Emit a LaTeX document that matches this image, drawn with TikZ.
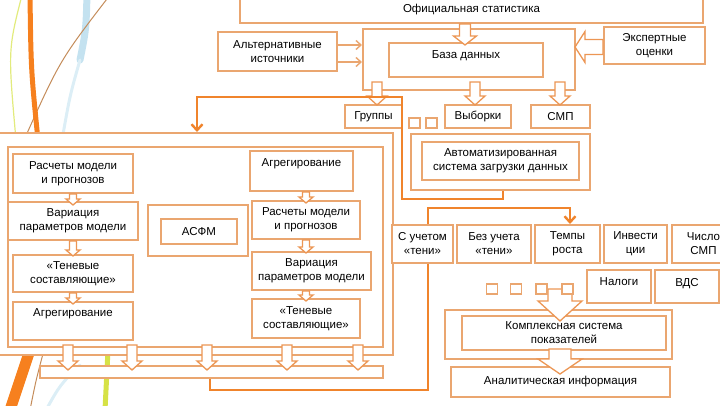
\documentclass[tikz,border=0pt]{standalone}
\usepackage{fontspec}
\setmainfont{Liberation Sans}
\usepackage{tikz}
\usetikzlibrary{positioning,arrows.meta,calc}
\definecolor{boxc}{RGB}{234,166,112}
\definecolor{arrc}{RGB}{236,150,84}
\definecolor{connc}{RGB}{240,132,44}
\definecolor{decoor}{RGB}{246,128,30}
\definecolor{decobl}{RGB}{196,226,240}
\definecolor{decoyl}{RGB}{214,226,70}
\definecolor{decobr}{RGB}{196,140,90}
\tikzset{
  blk/.style    ={draw=boxc, line width=2pt, fill=white, rectangle, align=center, inner sep=1pt},
  frm/.style    ={draw=boxc, line width=2pt, fill=white, rectangle, inner sep=0pt},
  sq/.style     ={draw=boxc, line width=1.6pt, fill=white, rectangle, minimum width=11pt, minimum height=10pt, inner sep=0pt},
  barr/.style   ={draw=arrc, fill=white, line width=1.3pt, line join=miter},
  conn/.style   ={draw=connc, line width=2.4pt},
  arr/.style    ={conn, -{Straight Barb[length=6pt,width=11pt]}},
  tarr/.style   ={draw=boxc, line width=1.4pt, -{Straight Barb[length=5pt,width=9pt]}},
  swoosh/.style ={line cap=round},
  pics/dnarr/.style n args={4}{code={
    \draw[barr] (-#2/2,0) -- (#2/2,0) -- (#2/2,#1-#4) -- (#3/2,#1-#4) -- (0,#1)
      -- (-#3/2,#1-#4) -- (-#2/2,#1-#4) -- cycle;
  }},
}
\begin{document}
\begin{tikzpicture}[x=1pt, y=-1pt, font=\fontsize{11.5}{14}\selectfont]
  \useasboundingbox (0,0) rectangle (720,405);
  \clip (0,0) rectangle (720,405);

  \draw[swoosh, decobl, line width=7pt] (87,-5) .. controls (86,30) .. (80,60);
  \draw[swoosh, decobl!60, line width=3pt] (80,60) .. controls (70,95) .. (62,140);
  \draw[swoosh, decoyl!70, line width=1.2pt] (22,-5) .. controls (8,50) .. (16,140);
  \draw[swoosh, decobr, line width=1pt] (110,-5) .. controls (60,60) .. (24,140);
  \draw[swoosh, decoor, line width=5pt] (30,-5) .. controls (31,70) .. (38,140);
  \draw[swoosh, decoor, line width=11pt] (30,350) .. controls (20,380) .. (10,410);
  \draw[swoosh, decobr, line width=1pt] (44,350) .. controls (36,380) .. (30,410);
  \draw[swoosh, decobl!60, line width=3pt] (80,365) .. controls (60,385) .. (46,410);
  \draw[swoosh, decoyl, line width=5pt] (108,350) -- (105,410);

  \node[blk, minimum width=463pt, minimum height=26pt] (stat) at (471.5,10) {Официальная статистика};
  \node[blk, minimum width=119pt, minimum height=39pt] (alt) at (277.5,51.5) {Альтернативные\\источники};
  \node[frm, minimum width=212pt, minimum height=61pt] (dbf) at (469,59.5) {};
  \node[blk, minimum width=154pt, minimum height=34pt, text depth=10pt] (db) at (466,60) {База данных};
  \node[blk, minimum width=101pt, minimum height=37pt] (exp) at (654.5,45.5) {Экспертные\\оценки};

  \node[blk, minimum width=57pt, minimum height=23pt] (grp) at (373.5,116.5) {Группы};
  \node[sq] (sqa) at (414.5,123) {};
  \node[sq] (sqb) at (431.5,123) {};
  \node[blk, minimum width=66pt, minimum height=23pt] (vyb) at (478,116.5) {Выборки};
  \node[blk, minimum width=59pt, minimum height=23pt] (smp) at (560.5,116.5) {СМП};
  \node[frm, minimum width=179pt, minimum height=56pt] (autof) at (500.5,162) {};
  \node[blk, minimum width=157pt, minimum height=38pt] (auto) at (500.5,161) {Автоматизированная\\система загрузки данных};

  \node[frm, minimum width=395pt, minimum height=222pt] (lf) at (195.5,244) {};
  \node[frm, minimum width=375pt, minimum height=200pt] (li) at (195.5,247) {};
  \node[blk, minimum width=120pt, minimum height=39pt] (la) at (73,173.5) {Расчеты модели\\и прогнозов};
  \node[blk, minimum width=130pt, minimum height=38pt] (lb) at (73,221) {Вариация\\параметров модели};
  \node[blk, minimum width=120pt, minimum height=37pt] (lc) at (73,273.5) {«Теневые\\составляющие»};
  \node[blk, minimum width=120pt, minimum height=38pt, text depth=17pt] (ld) at (73,321) {Агрегирование};
  \node[frm, minimum width=100pt, minimum height=51pt] (asff) at (198,230.5) {};
  \node[blk, minimum width=76pt, minimum height=25pt] (asf) at (199,231.5) {АСФМ};
  \node[blk, minimum width=103pt, minimum height=40pt, text depth=17pt] (ra) at (301.5,171) {Агрегирование};
  \node[blk, minimum width=108pt, minimum height=38pt] (rb) at (306,220) {Расчеты модели\\и прогнозов};
  \node[blk, minimum width=119pt, minimum height=38pt] (rc) at (311.5,271) {Вариация\\параметров модели};
  \node[blk, minimum width=108pt, minimum height=39pt] (rd) at (306,318.5) {«Теневые\\составляющие»};
  \node[frm, minimum width=343pt, minimum height=12pt] (bus) at (211.5,372) {};

  \node[blk, minimum width=61pt, minimum height=38pt] (ta) at (422.5,244) {С учетом\\«тени»};
  \node[blk, minimum width=74pt, minimum height=38pt] (tb) at (494,244) {Без учета\\«тени»};
  \node[blk, minimum width=65pt, minimum height=38pt] (tc) at (567.5,244) {Темпы\\роста};
  \node[blk, minimum width=63pt, minimum height=38pt] (td) at (635.5,244) {Инвести\\ции};
  \node[blk, minimum width=63pt, minimum height=38pt] (te) at (703.5,244) {Число\\СМП};
  \node[blk, minimum width=64pt, minimum height=33pt, text depth=9pt] (tax) at (619,286.5) {Налоги};
  \node[blk, minimum width=64pt, minimum height=33pt, text depth=9pt] (vds) at (687,286.5) {ВДС};

  \node[frm, minimum width=227pt, minimum height=49pt] (kf) at (558.5,334.5) {};
  \node[blk, minimum width=204pt, minimum height=34pt] (komp) at (564,333) {Комплексная система\\показателей};
  \node[blk, minimum width=219pt, minimum height=30pt] (anal) at (560.5,382) {Аналитическая информация};

  \pic (astat) at ([xshift=-6.5pt]stat.south) {dnarr={21}{11}{23}{9}};
  \pic[rotate=-90] (aexp) at ([yshift=-1.5pt]exp.west) {dnarr={28}{15}{31}{10}};
  \foreach \x/\n in {377/grp,475/vyb,560/smp}
    \pic (a\n) at (\x,82) {dnarr={23}{10}{20}{9}};
  \pic (aab) at (la.south) {dnarr={11}{7}{14}{6}};
  \pic (abc) at (la.south |- lb.south) {dnarr={15}{7}{14}{6}};
  \pic (acd) at (la.south |- lc.south) {dnarr={11}{7}{14}{6}};
  \pic (arab) at (rb.north |- ra.south) {dnarr={11}{7}{14}{6}};
  \pic (arbc) at (rb.south) {dnarr={13}{7}{14}{6}};
  \pic (arcd) at (rb.south |- rc.south) {dnarr={10}{7}{14}{6}};
  \foreach \x [count=\i] in {68,132,207,287,358}
    \pic (abus\i) at (\x,345) {dnarr={25}{10}{20}{9}};
  \pic (abig) at (560,289) {dnarr={32}{24}{44}{20}};
  \pic (akomp) at (560,349) {dnarr={25}{22}{44}{15}};
  \foreach \x [count=\i] in {492,516,541.5,567.5}
    \node[sq] (sqn\i) at (\x,289) {};

  \coordinate (ja) at (402,199);
  \coordinate (jb) at (197,97);
  \coordinate (jc) at (0,208);
  \coordinate (jd) at (210,390);
  \draw[arr] ([xshift=2.5pt]autof.south) |- (ja) |- (jb) -- (jb |- lf.north);
  \draw[arr] ([xshift=5.5pt]ta.north) |- ([xshift=2.5pt]tc.north |- jc) -- ([xshift=2.5pt]tc.north);
  \draw[conn] ([xshift=5.5pt]ta.south) |- (jd) -- (jd |- bus.south);
  \draw[tarr] ([yshift=6.5pt]alt.east) -- ([yshift=6.5pt]alt.east -| dbf.west);
  \draw[tarr] ([yshift=-10.5pt]alt.east) -- ([yshift=-10.5pt]alt.east -| dbf.west);
\end{tikzpicture}
\end{document}
